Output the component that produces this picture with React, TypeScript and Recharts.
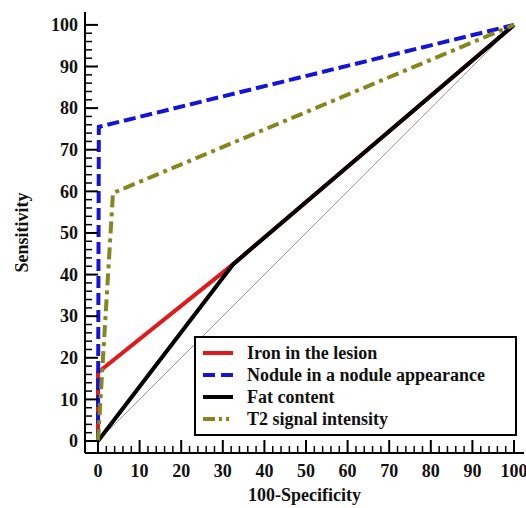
import React from 'react';
import { LineChart, Line, XAxis, YAxis, Legend, Label } from 'recharts';

// ROC points: x = 100-Specificity, y = Sensitivity
const ironX = [0, 0, 32.5, 100];
const ironY = [0, 16.5, 42.5, 100];
const noduleX = [0, 0.2, 100];
const noduleY = [0, 75.5, 100];
const fatX = [0, 32.5, 100];
const fatY = [0, 42.5, 100];
const t2X = [0, 3.6, 100];
const t2Y = [0, 59.6, 100];
const chanceX = [0, 100];
const chanceY = [0, 100];

const majorTicks = [0, 10, 20, 30, 40, 50, 60, 70, 80, 90, 100];
const allTicks: number[] = [];
majorTicks.forEach((t, i) => {
  allTicks.push(t);
  if (i < majorTicks.length - 1) {
    [2, 4, 6, 8].forEach((m) => allTicks.push(t + m));
  }
});

const toPts = (xs: number[], ys: number[]) => xs.map((x, i) => ({ x, y: ys[i] }));

const FONT = '"Liberation Serif", "Times New Roman", serif';

const series = [
  { name: 'Iron in the lesion', data: toPts(ironX, ironY), color: '#e01a1a', dash: undefined as string | undefined, legendDash: undefined as string | undefined },
  { name: 'Fat content', data: toPts(fatX, fatY), color: '#000000', dash: undefined, legendDash: undefined },
  { name: 'Nodule in a nodule appearance', data: toPts(noduleX, noduleY), color: '#1414d8', dash: '12 5', legendDash: '12 6' },
  { name: 'T2 signal intensity', data: toPts(t2X, t2Y), color: '#86861e', dash: '12 5 4 5', legendDash: '12 4 3 4 3 4' },
];
const legendOrder = ['Iron in the lesion', 'Nodule in a nodule appearance', 'Fat content', 'T2 signal intensity'];

const XTick = (props: any) => {
  const { x, y, payload } = props;
  const v = payload.value;
  const major = v % 10 === 0;
  return (
    <g>
      <line x1={x} x2={x} y1={y} y2={y - (major ? 13 : 7)} stroke="#000" strokeWidth={major ? 2 : 1.5} />
      {major && (
        <text x={x} y={y + 24} textAnchor="middle" fontFamily={FONT} fontWeight="bold" fontSize={18} fill="#111">
          {v}
        </text>
      )}
    </g>
  );
};

const YTick = (props: any) => {
  const { x, y, payload } = props;
  const v = payload.value;
  const major = v % 10 === 0;
  return (
    <g>
      <line x1={x} x2={x + (major ? 13 : 7)} y1={y} y2={y} stroke="#000" strokeWidth={major ? 2 : 1.5} />
      {major && (
        <text x={x - 7} y={y} dy="0.35em" textAnchor="end" fontFamily={FONT} fontWeight="bold" fontSize={18} fill="#111">
          {v}
        </text>
      )}
    </g>
  );
};

const LegendBox = () => (
  <div
    style={{
      boxSizing: 'border-box',
      width: 323,
      height: 100,
      border: '2px solid #000',
      background: '#fff',
      padding: '4px 7px',
      fontFamily: FONT,
      fontWeight: 'bold',
      fontSize: 18,
      color: '#111',
    }}
  >
    {legendOrder.map((n) => {
      const s = series.find((q) => q.name === n)!;
      return (
        <div key={n} style={{ display: 'flex', alignItems: 'center', height: 22 }}>
          <svg width={30} height={8} style={{ marginRight: 14, flex: 'none' }}>
            <line x1={0} x2={30} y1={4} y2={4} stroke={s.color} strokeWidth={4} strokeDasharray={s.legendDash} />
          </svg>
          <span style={{ whiteSpace: 'nowrap', lineHeight: '22px' }}>{n}</span>
        </div>
      );
    })}
  </div>
);

export default function App() {
  return (
    <div style={{ position: 'absolute', left: 0, top: 0, width: 526, height: 508, background: '#fff' }}>
      <LineChart width={526} height={508} margin={{ top: 12, right: 2, bottom: 0, left: 0 }}>
        <XAxis
          xAxisId={0}
          type="number"
          dataKey="x"
          domain={[-3.125, 102.4]}
          ticks={allTicks}
          interval={0}
          tickSize={0}
          tickMargin={0}
          tickLine={false}
          tick={<XTick />}
          height={55}
          axisLine={{ stroke: '#000', strokeWidth: 2 }}
          allowDataOverflow
        >
          <Label value="100-Specificity" position="center" dy={14} style={{ fontFamily: FONT, fontWeight: 'bold', fontSize: 18, fill: '#111' }} />
        </XAxis>
        <XAxis
          xAxisId="top"
          orientation="top"
          type="number"
          domain={[-3.125, 102.4]}
          height={0}
          tick={false}
          tickLine={false}
          axisLine={{ stroke: '#000', strokeWidth: 2 }}
        />
        <YAxis
          yAxisId={0}
          type="number"
          dataKey="y"
          domain={[-2.88, 103.1]}
          ticks={allTicks}
          interval={0}
          tickSize={0}
          tickMargin={0}
          tickLine={false}
          tick={<YTick />}
          width={85}
          axisLine={{ stroke: '#000', strokeWidth: 2 }}
          allowDataOverflow
        >
          <Label value="Sensitivity" position="center" angle={-90} dx={-21} style={{ fontFamily: FONT, fontWeight: 'bold', fontSize: 18, fill: '#111' }} />
        </YAxis>
        <YAxis
          yAxisId="right"
          orientation="right"
          type="number"
          domain={[-2.88, 103.1]}
          width={0}
          tick={false}
          tickLine={false}
          axisLine={{ stroke: '#000', strokeWidth: 2 }}
        />
        <Line
          data={toPts(chanceX, chanceY)}
          dataKey="y"
          stroke="#999"
          strokeWidth={1}
          dot={false}
          isAnimationActive={false}
          legendType="none"
          name="chance"
        />
        {series.map((s) => (
          <Line
            key={s.name}
            name={s.name}
            data={s.data}
            dataKey="y"
            stroke={s.color}
            strokeWidth={4}
            strokeDasharray={s.dash}
            dot={false}
            isAnimationActive={false}
          />
        ))}
        <Legend
          layout="vertical"
          align="center"
          verticalAlign="middle"
          wrapperStyle={{ position: 'absolute', left: 194, top: 336, width: 323, height: 100, margin: 0 }}
          content={() => <LegendBox />}
        />
      </LineChart>
    </div>
  );
}
